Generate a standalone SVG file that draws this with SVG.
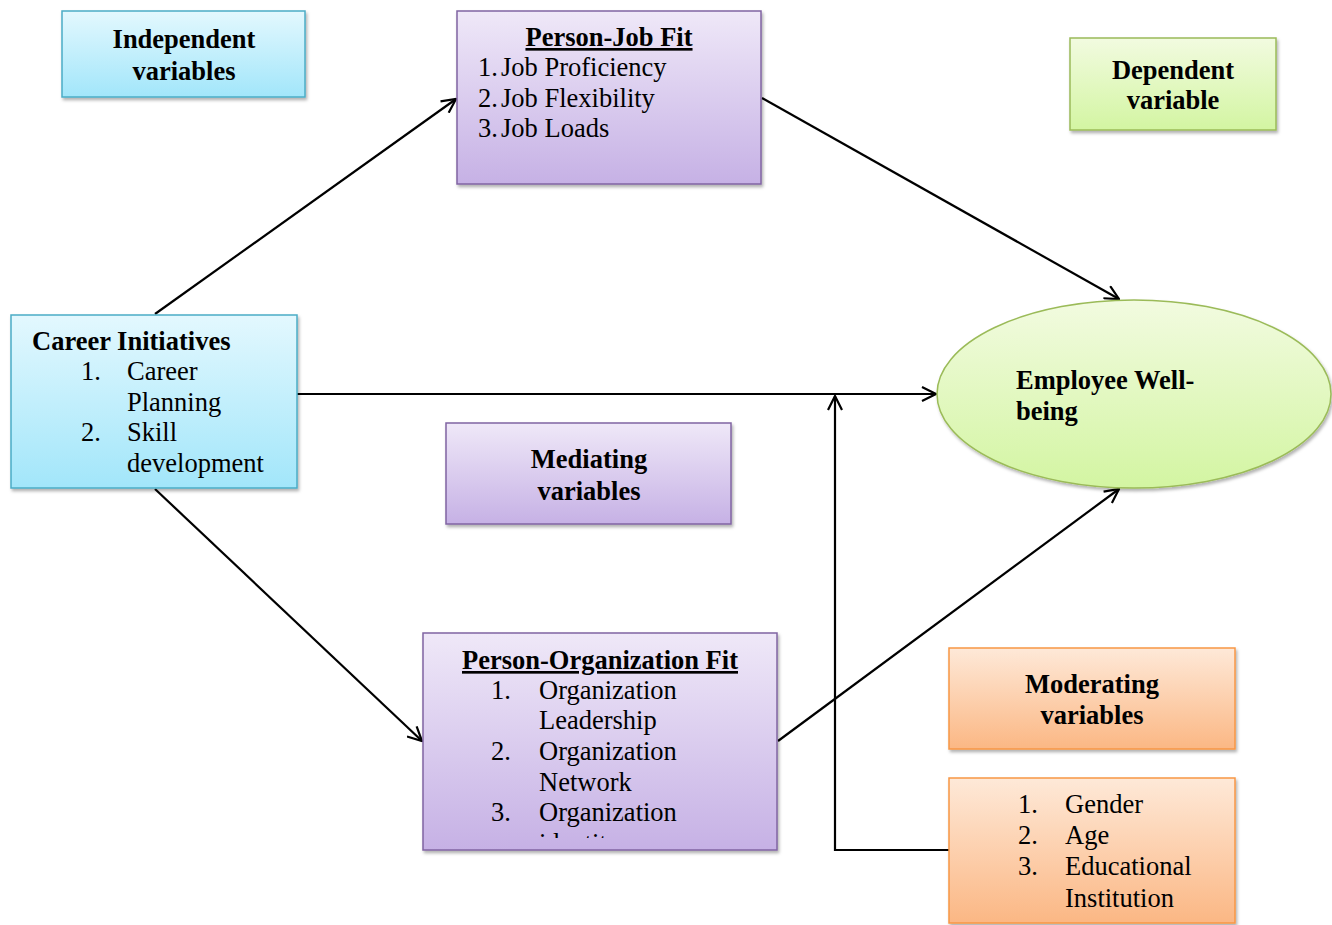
<svg xmlns="http://www.w3.org/2000/svg" width="1332" height="925" viewBox="0 0 1332 925">
<style>
text{font-family:"Liberation Serif","Times New Roman",serif;font-size:26.5px;fill:#000}
.b{font-weight:bold}
.u{text-decoration:underline}
.c{text-anchor:middle}
.ln{stroke:#000;stroke-width:2.2;fill:none}
.blue{fill:url(#gBlue);stroke:#4bacc6;stroke-width:1.5}
.purple{fill:url(#gPurple);stroke:#8064a2;stroke-width:1.5}
.green{fill:url(#gGreen);stroke:#9bbb59;stroke-width:1.5}
.orange{fill:url(#gOrange);stroke:#f79646;stroke-width:1.5}
.sh{filter:url(#shadow)}
</style>
<defs>
<linearGradient id="gBlue" x1="0" y1="0" x2="0" y2="1"><stop offset="0" stop-color="#e3f8fe"/><stop offset="1" stop-color="#a2e6fa"/></linearGradient>
<linearGradient id="gPurple" x1="0" y1="0" x2="0" y2="1"><stop offset="0" stop-color="#efe8f8"/><stop offset="1" stop-color="#c6b1e5"/></linearGradient>
<linearGradient id="gGreen" x1="0" y1="0" x2="0" y2="1"><stop offset="0" stop-color="#f2fbe0"/><stop offset="1" stop-color="#d3f5a2"/></linearGradient>
<linearGradient id="gOrange" x1="0" y1="0" x2="0" y2="1"><stop offset="0" stop-color="#fee9d8"/><stop offset="1" stop-color="#fbb784"/></linearGradient>
<filter id="shadow" x="-5%" y="-5%" width="115%" height="115%"><feDropShadow dx="1.5" dy="2.5" stdDeviation="1.5" flood-color="#000" flood-opacity="0.3"/></filter>
<marker id="arr" viewBox="0 0 16 16" refX="15" refY="8" markerWidth="16" markerHeight="16" markerUnits="userSpaceOnUse" orient="auto"><path d="M1,1 L15,8 L1,15" fill="none" stroke="#000" stroke-width="2.2"/></marker>
<clipPath id="pofClip"><rect x="423" y="633" width="354" height="205"/></clipPath>
</defs>

<g id="connectors">
<line class="ln" x1="155" y1="314" x2="456" y2="99" marker-end="url(#arr)"/>
<line class="ln" x1="762" y1="98" x2="1119" y2="299" marker-end="url(#arr)"/>
<line class="ln" x1="297" y1="394" x2="936" y2="394" marker-end="url(#arr)"/>
<line class="ln" x1="155" y1="489" x2="422" y2="741" marker-end="url(#arr)"/>
<line class="ln" x1="778" y1="741" x2="1119" y2="489" marker-end="url(#arr)"/>
<polyline class="ln" points="949,850 835,850 835,396" marker-end="url(#arr)"/>
</g>

<g id="independent-label">
<rect class="blue sh" x="62" y="11" width="243" height="86"/>
<text class="b c" x="184" y="48">Independent</text>
<text class="b c" x="184" y="80">variables</text>
</g>

<g id="person-job-fit">
<rect class="purple sh" x="457" y="11" width="304" height="173"/>
<text class="b c u" x="609" y="46">Person-Job Fit</text>
<text x="478" y="76">1.</text><text x="501" y="76">Job Proficiency</text>
<text x="478" y="107">2.</text><text x="501" y="107">Job Flexibility</text>
<text x="478" y="137">3.</text><text x="501" y="137">Job Loads</text>
</g>

<g id="dependent-label">
<rect class="green sh" x="1070" y="38" width="206" height="92"/>
<text class="b c" x="1173" y="79">Dependent</text>
<text class="b c" x="1173" y="109">variable</text>
</g>

<g id="career-initiatives">
<rect class="blue sh" x="11" y="315" width="286" height="173"/>
<text class="b" x="32" y="350">Career Initiatives</text>
<text x="81" y="380">1.</text><text x="127" y="380">Career</text>
<text x="127" y="411">Planning</text>
<text x="81" y="441">2.</text><text x="127" y="441">Skill</text>
<text x="127" y="472">development</text>
</g>

<g id="mediating-label">
<rect class="purple sh" x="446" y="423" width="285" height="101"/>
<text class="b c" x="589" y="468">Mediating</text>
<text class="b c" x="589" y="500">variables</text>
</g>

<g id="employee-wellbeing">
<ellipse class="green sh" cx="1134" cy="394" rx="197" ry="94"/>
<text class="b" x="1016" y="389">Employee Well-</text>
<text class="b" x="1016" y="420">being</text>
</g>

<g id="person-organization-fit">
<rect class="purple sh" x="423" y="633" width="354" height="217"/>
<text class="b c u" x="600" y="669">Person-Organization Fit</text>
<g clip-path="url(#pofClip)">
<text x="491" y="699">1.</text><text x="539" y="699">Organization</text>
<text x="539" y="729">Leadership</text>
<text x="491" y="760">2.</text><text x="539" y="760">Organization</text>
<text x="539" y="791">Network</text>
<text x="491" y="821">3.</text><text x="539" y="821">Organization</text>
<text x="539" y="852">identity</text>
</g>
</g>

<g id="moderating-label">
<rect class="orange sh" x="949" y="648" width="286" height="101"/>
<text class="b c" x="1092" y="693">Moderating</text>
<text class="b c" x="1092" y="724">variables</text>
</g>

<g id="moderators">
<rect class="orange sh" x="949" y="778" width="286" height="145"/>
<text x="1018" y="813">1.</text><text x="1065" y="813">Gender</text>
<text x="1018" y="844">2.</text><text x="1065" y="844">Age</text>
<text x="1018" y="875">3.</text><text x="1065" y="875">Educational</text>
<text x="1065" y="907">Institution</text>
</g>
</svg>
